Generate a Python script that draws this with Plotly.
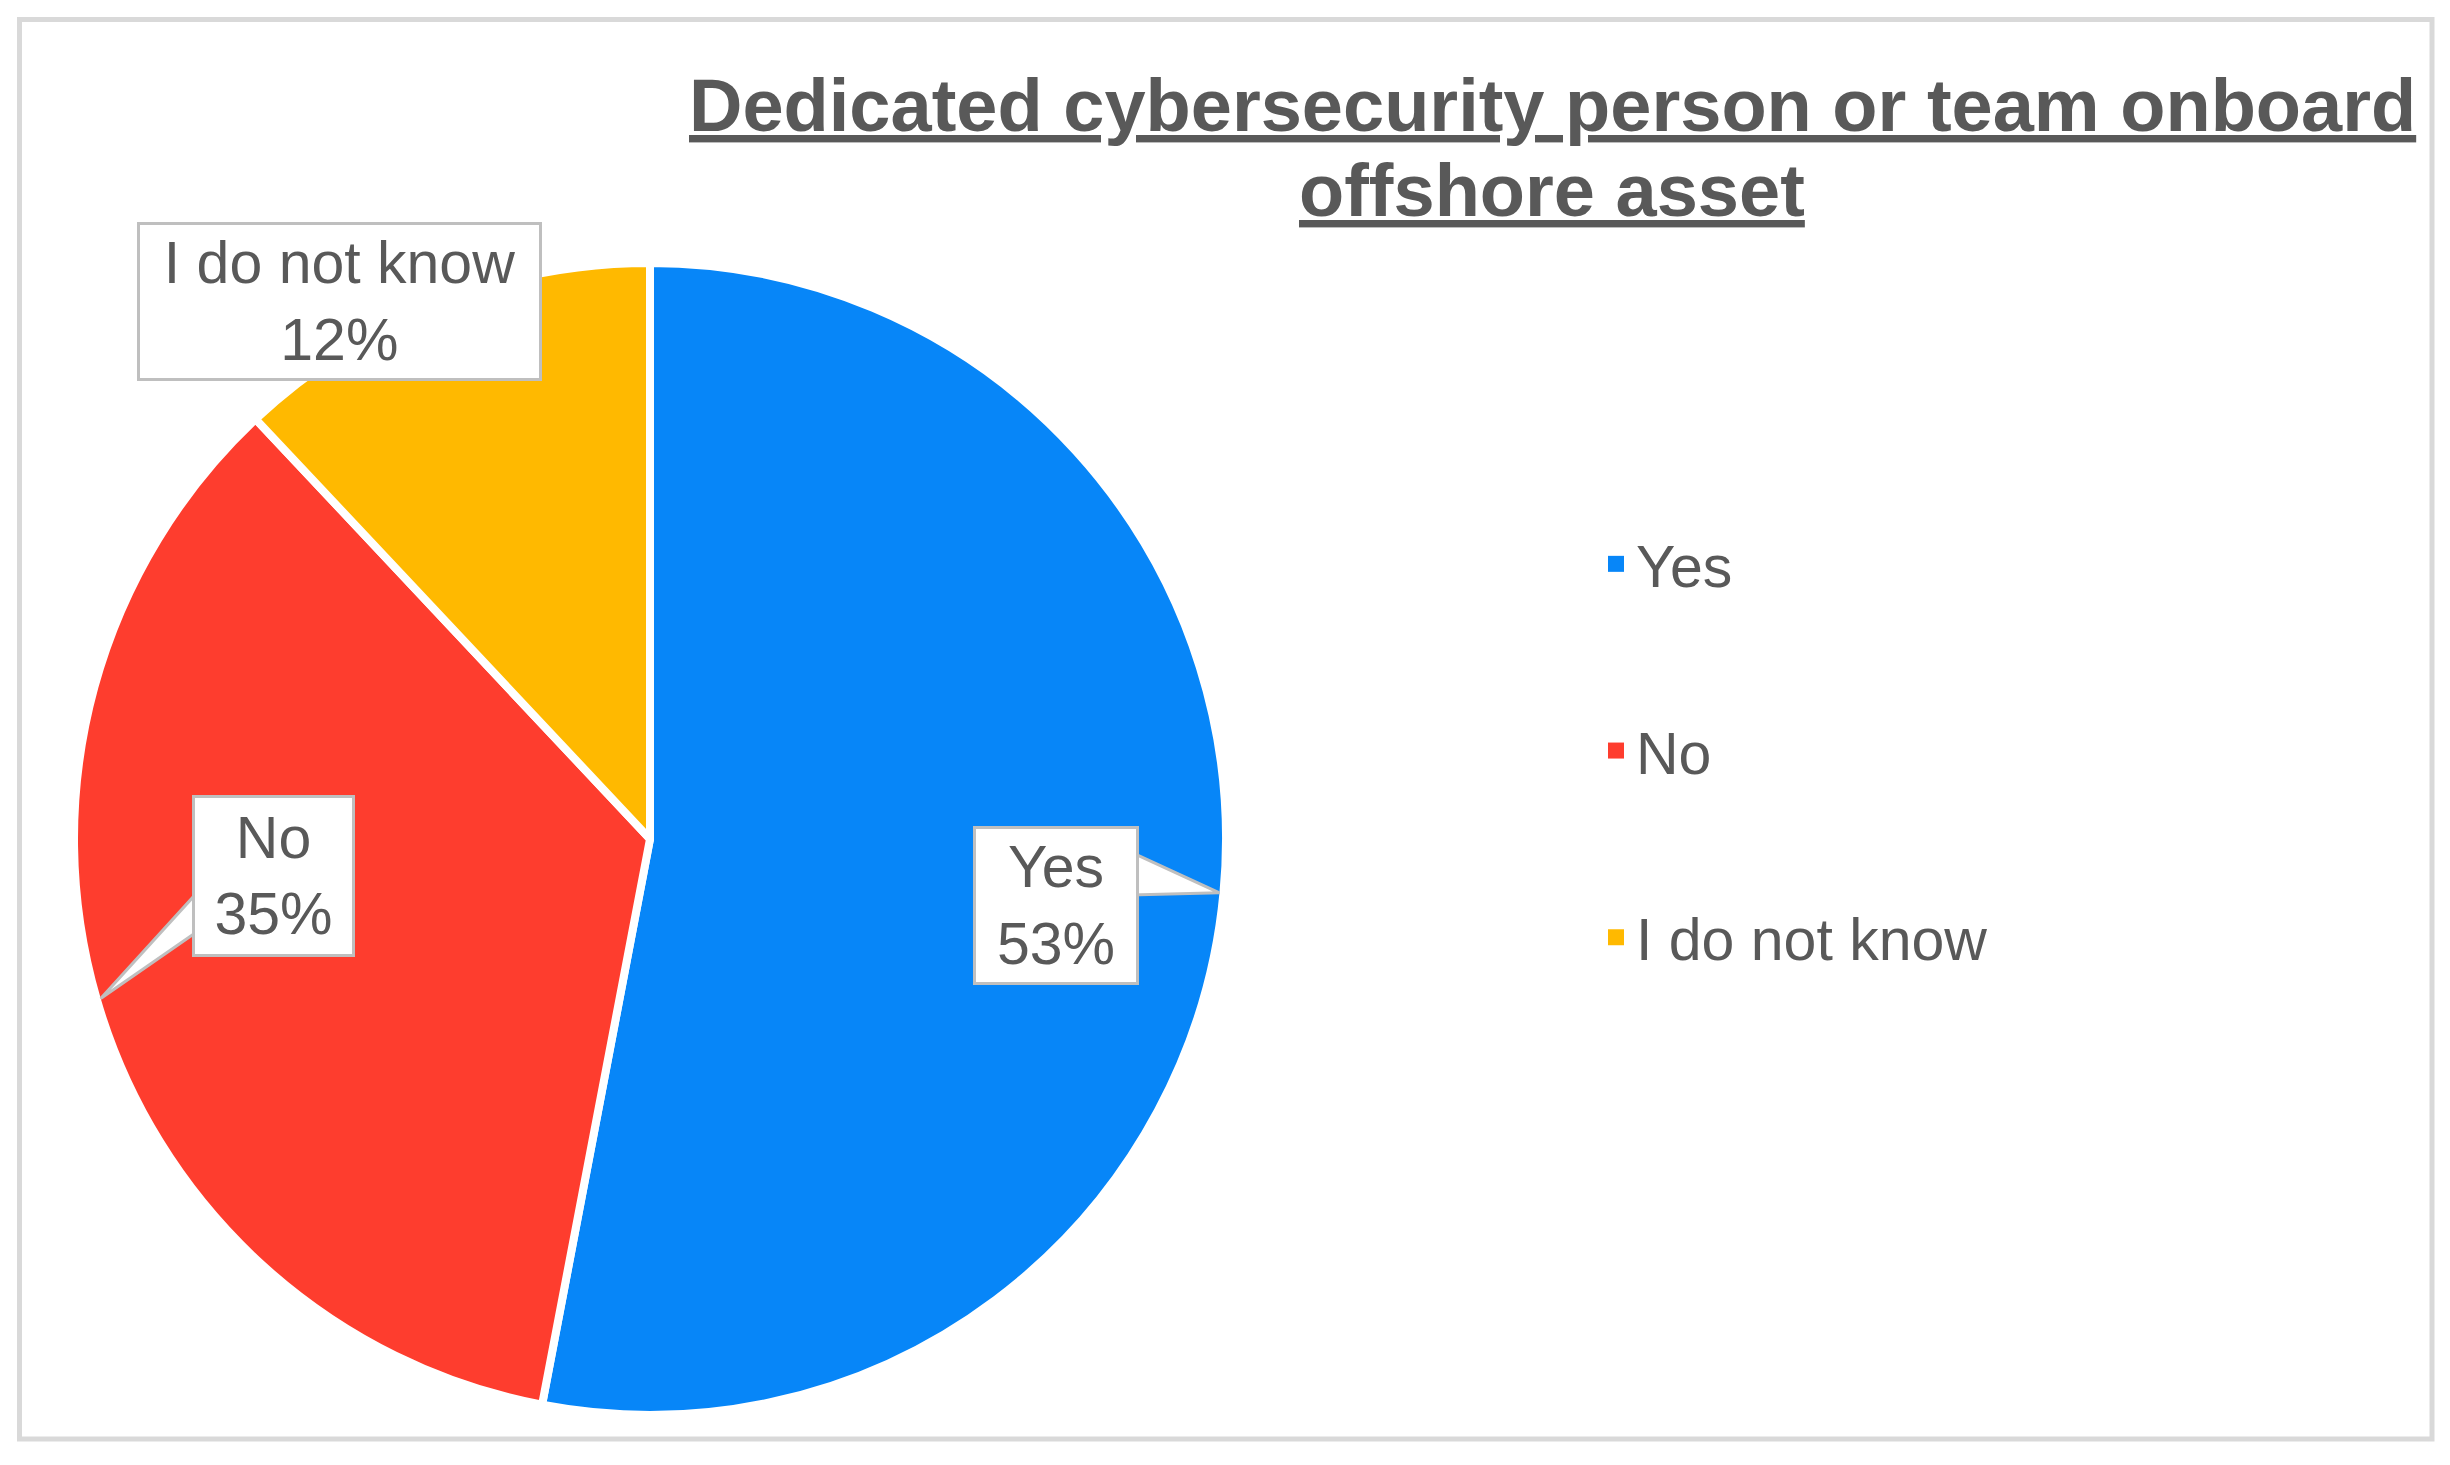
import math
import plotly.graph_objects as go

# ---- data ----
labels = ["Yes", "No", "I do not know"]
values = [53, 35, 12]
pct_text = ["53%", "35%", "12%"]
colors = ["#0786F8", "#FE3D2E", "#FFB900"]
title_lines = ["Dedicated cybersecurity person or team onboard", "offshore asset"]

# ---- geometry ----
# page has an 8px body margin; figure is sized to fit inside the window
PAGE_OFF = 8
W, H = 2450 - 2 * PAGE_OFF, 1465 - 2 * PAGE_OFF


def fx(page_x):
    return (page_x - PAGE_OFF) / W


def fy(page_y):
    return (H - (page_y - PAGE_OFF)) / H


cxp, cyp, R = 650, 839, 576          # pie centre (page px) and radius
dom_x = [fx(cxp - R), fx(cxp + R)]
dom_y = [fy(cyp + R), fy(cyp - R)]

# callout boxes: centre (page px), size, wedge join (side, y offsets from box centre)
callouts = [
    dict(c=(1056, 905), w=166, h=159, wedge=("right", -53, -10)),
    dict(c=(273, 876), w=163, h=162, wedge=("left", 14, 54)),
    dict(c=(339, 301), w=405, h=159, wedge=None),
]

FONT = "Liberation Sans, Arial, sans-serif"
GREY = "#595959"
BORDER = "#BFBFBF"

fig = go.Figure()
fig.add_trace(go.Pie(
    labels=labels, values=values, sort=False, direction="clockwise", rotation=0,
    marker=dict(colors=colors, line=dict(color="white", width=8)),
    textinfo="none", showlegend=False, domain=dict(x=dom_x, y=dom_y),
    hoverinfo="label+percent",
))

# legend entries
for lab, col in zip(labels, colors):
    fig.add_trace(go.Scatter(
        x=[None], y=[None], mode="markers", name=lab, legendgroup=lab,
        marker=dict(symbol="square", size=16, color=col), showlegend=True,
    ))

total = sum(values)
cum = 0
annotations = []
shapes = []
for lab, val, pt, co in zip(labels, values, pct_text, callouts):
    mid = (cum + val / 2) / total * 2 * math.pi
    cum += val
    tx = cxp + (R - 4) * math.sin(mid)
    ty = cyp - (R - 4) * math.cos(mid)
    px_ = fx(tx)
    py_ = fy(ty)
    ax = co["c"][0] - tx
    ay = co["c"][1] - ty
    if co["wedge"] is not None:
        side, j0, j1 = co["wedge"]
        if side == "right":
            ex = ax + co["w"] / 2 - 8
        else:
            ex = ax - co["w"] / 2 + 8
        y0 = -(ay + j0)
        y1 = -(ay + j1)
        shapes.append(dict(
            type="path", xref="paper", yref="paper", xsizemode="pixel", ysizemode="pixel",
            xanchor=px_, yanchor=py_,
            path=f"M0,0 L{ex:.1f},{y0:.1f} L{ex:.1f},{y1:.1f} Z",
            fillcolor="white", line=dict(color=BORDER, width=3), layer="above",
        ))
    annotations.append(dict(
        x=px_, y=py_, xref="paper", yref="paper",
        text=f"{lab}<br>{pt}", showarrow=True, arrowcolor="rgba(0,0,0,0)", arrowwidth=0.1,
        ax=ax, ay=ay, axref="pixel", ayref="pixel",
        width=co["w"] - 6, height=co["h"] - 6, borderpad=0,
        bgcolor="white", bordercolor=BORDER, borderwidth=3,
        font=dict(family=FONT, size=59, color=GREY),
    ))

# title (two lines)
for txt, yc in zip(title_lines, [106, 190]):
    annotations.append(dict(
        x=fx(1552), y=fy(yc), xref="paper", yref="paper", xanchor="center", yanchor="middle",
        text=f"<b>{txt}</b>", showarrow=False,
        font=dict(family=FONT, size=74, color=GREY, lineposition="under"),
    ))

# outer frame
shapes.append(dict(type="rect", xref="paper", yref="paper",
                   x0=fx(19.5), x1=fx(2432), y0=fy(1439), y1=fy(19.5),
                   line=dict(color="#D9D9D9", width=5), layer="below"))

fig.update_layout(
    width=W, height=H, margin=dict(l=0, r=0, t=0, b=0),
    paper_bgcolor="white", plot_bgcolor="white",
    xaxis=dict(visible=False), yaxis=dict(visible=False),
    showlegend=True,
    legend=dict(x=fx(1596), xanchor="left", y=fy(519), yanchor="top",
                font=dict(family=FONT, size=59, color=GREY), tracegroupgap=107,
                bgcolor="rgba(0,0,0,0)", traceorder="grouped"),
    annotations=annotations, shapes=shapes,
    font=dict(family=FONT),
)

fig.write_html("out.html")
